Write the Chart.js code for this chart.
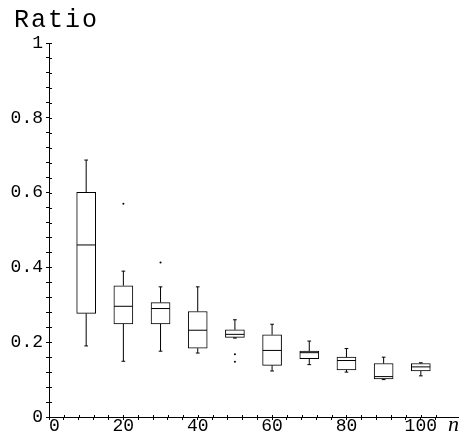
<!DOCTYPE html>
<html>
<head>
<meta charset="utf-8">
<script src="https://cdn.jsdelivr.net/npm/chart.js@4/dist/chart.umd.min.js"></script>
<style>
html,body{margin:0;padding:0;background:#fff;overflow:hidden;}
#wrap{width:462px;height:434px;position:relative;}
</style>
</head>
<body>
<div id="wrap"><canvas id="c"></canvas></div>
<script>
// ---- data ----
const categories  = [10, 20, 30, 40, 50, 60, 70, 80, 90, 100];
const whiskerLow  = [0.190, 0.149, 0.176, 0.171, 0.211, 0.123, 0.140, 0.120, 0.100, 0.110];
const quartile1   = [0.277, 0.249, 0.249, 0.184, 0.213, 0.138, 0.156, 0.126, 0.102, 0.123];
const medians     = [0.460, 0.296, 0.290, 0.232, 0.221, 0.178, 0.172, 0.151, 0.108, 0.134];
const quartile3   = [0.601, 0.351, 0.306, 0.282, 0.233, 0.220, 0.176, 0.160, 0.143, 0.143];
const whiskerHigh = [0.687, 0.390, 0.348, 0.348, 0.260, 0.248, 0.203, 0.183, 0.160, 0.145];
const outlierX    = [20, 30, 50, 50];
const outlierY    = [0.570, 0.413, 0.168, 0.148];
const xTickLabels = {0: ' 0', 20: '20', 40: '40', 60: '60', 80: '80', 100: '100'};
const yTickLabels = {0: '0', 0.2: '0.2', 0.4: '0.4', 0.6: '0.6', 0.8: '0.8', 1: '1'};

// ---- styling constants ----
const BOX_HALF = 2.5;   // half box width in x units
const CAP_HALF = 0.5;   // half whisker cap width in x units
const FONT = '"Liberation Mono", "DejaVu Sans Mono", monospace';

const boxData = categories.map((c, i) => ({x: c, y: [quartile1[i], quartile3[i]]}));
const lineData = [];
categories.forEach((c, i) => {
  lineData.push({x: c, y: whiskerLow[i]}, {x: c, y: quartile1[i]}, {x: c, y: null});
  lineData.push({x: c, y: quartile3[i]}, {x: c, y: whiskerHigh[i]}, {x: c, y: null});
  lineData.push({x: c - CAP_HALF, y: whiskerHigh[i]}, {x: c + CAP_HALF, y: whiskerHigh[i]}, {x: c, y: null});
  lineData.push({x: c - CAP_HALF, y: whiskerLow[i]}, {x: c + CAP_HALF, y: whiskerLow[i]}, {x: c, y: null});
  lineData.push({x: c - BOX_HALF, y: medians[i]}, {x: c + BOX_HALF, y: medians[i]}, {x: c, y: null});
});
const outlierData = outlierX.map((x, i) => ({x: x, y: outlierY[i]}));

function labelFor(map, v) {
  for (const k in map) { if (Math.abs(Number(k) - v) < 1e-6) return map[k]; }
  return '';
}

const extras = {
  id: 'extras',
  afterDraw(chart) {
    const ctx = chart.ctx, xs = chart.scales.x, ys = chart.scales.y, a = chart.chartArea;
    ctx.save();
    ctx.strokeStyle = '#000';
    ctx.lineWidth = 1;
    ctx.beginPath();
    xs.ticks.forEach(t => {
      const px = Math.round(xs.getPixelForValue(t.value)) + 0.5;
      ctx.moveTo(px, a.bottom - 2); ctx.lineTo(px, a.bottom);
    });
    ys.ticks.forEach(t => {
      const py = Math.round(ys.getPixelForValue(t.value)) + 0.5;
      ctx.moveTo(a.left, py); ctx.lineTo(a.left + 3, py);
    });
    ctx.stroke();
    ctx.fillStyle = '#000';
    ctx.font = '25px ' + FONT;
    ctx.letterSpacing = '2px';
    ctx.textBaseline = 'alphabetic';
    ctx.fillText('Ratio', 14, 27);
    ctx.letterSpacing = '0px';
    ctx.font = 'italic 22px "Liberation Serif", "DejaVu Serif", serif';
    ctx.fillText('n', 448, 431);
    ctx.restore();
  }
};

new Chart(document.getElementById('c'), {
  type: 'bar',
  data: {
    datasets: [
      {
        type: 'line', data: lineData, borderColor: '#000', borderWidth: 1,
        pointRadius: 0, spanGaps: false, fill: false, tension: 0, order: 1
      },
      {
        type: 'scatter', data: outlierData, backgroundColor: '#000', borderColor: '#000',
        pointRadius: 1, borderWidth: 0, order: 0
      },
      {
        type: 'bar', data: boxData, backgroundColor: '#fff', borderColor: '#000',
        borderWidth: 1, borderSkipped: false, barThickness: 19, grouped: false, order: 2
      }
    ]
  },
  options: {
    responsive: true,
    maintainAspectRatio: false,
    animation: false,
    layout: {padding: {top: 43, left: 0, right: 0, bottom: 0}},
    plugins: {legend: {display: false}, tooltip: {enabled: false}, title: {display: false}},
    scales: {
      x: {
        type: 'linear', min: 0, max: 110, offset: false,
        afterBuildTicks: s => { s.ticks = s.ticks.filter(t => Math.abs(t.value / 4 - Math.round(t.value / 4)) < 1e-6); },
        afterFit: s => { s.height = 17; },
        border: {display: true, color: '#000', width: 1},
        grid: {drawOnChartArea: false, drawTicks: true, tickLength: 3, color: '#000', offset: false},
        ticks: {
          stepSize: 4, autoSkip: false, maxRotation: 0, padding: -5, color: '#000',
          font: {family: FONT, size: 18},
          callback: v => labelFor(xTickLabels, v)
        }
      },
      y: {
        type: 'linear', min: 0, max: 1,
        afterFit: s => { s.width = 49; },
        border: {display: true, color: '#000', width: 1},
        grid: {drawOnChartArea: false, drawTicks: true, tickLength: 3, color: '#000'},
        ticks: {
          stepSize: 0.04, autoSkip: false, padding: 3, color: '#000',
          font: {family: FONT, size: 18},
          callback: v => labelFor(yTickLabels, v)
        }
      }
    }
  },
  plugins: [extras]
});
</script>
</body>
</html>
